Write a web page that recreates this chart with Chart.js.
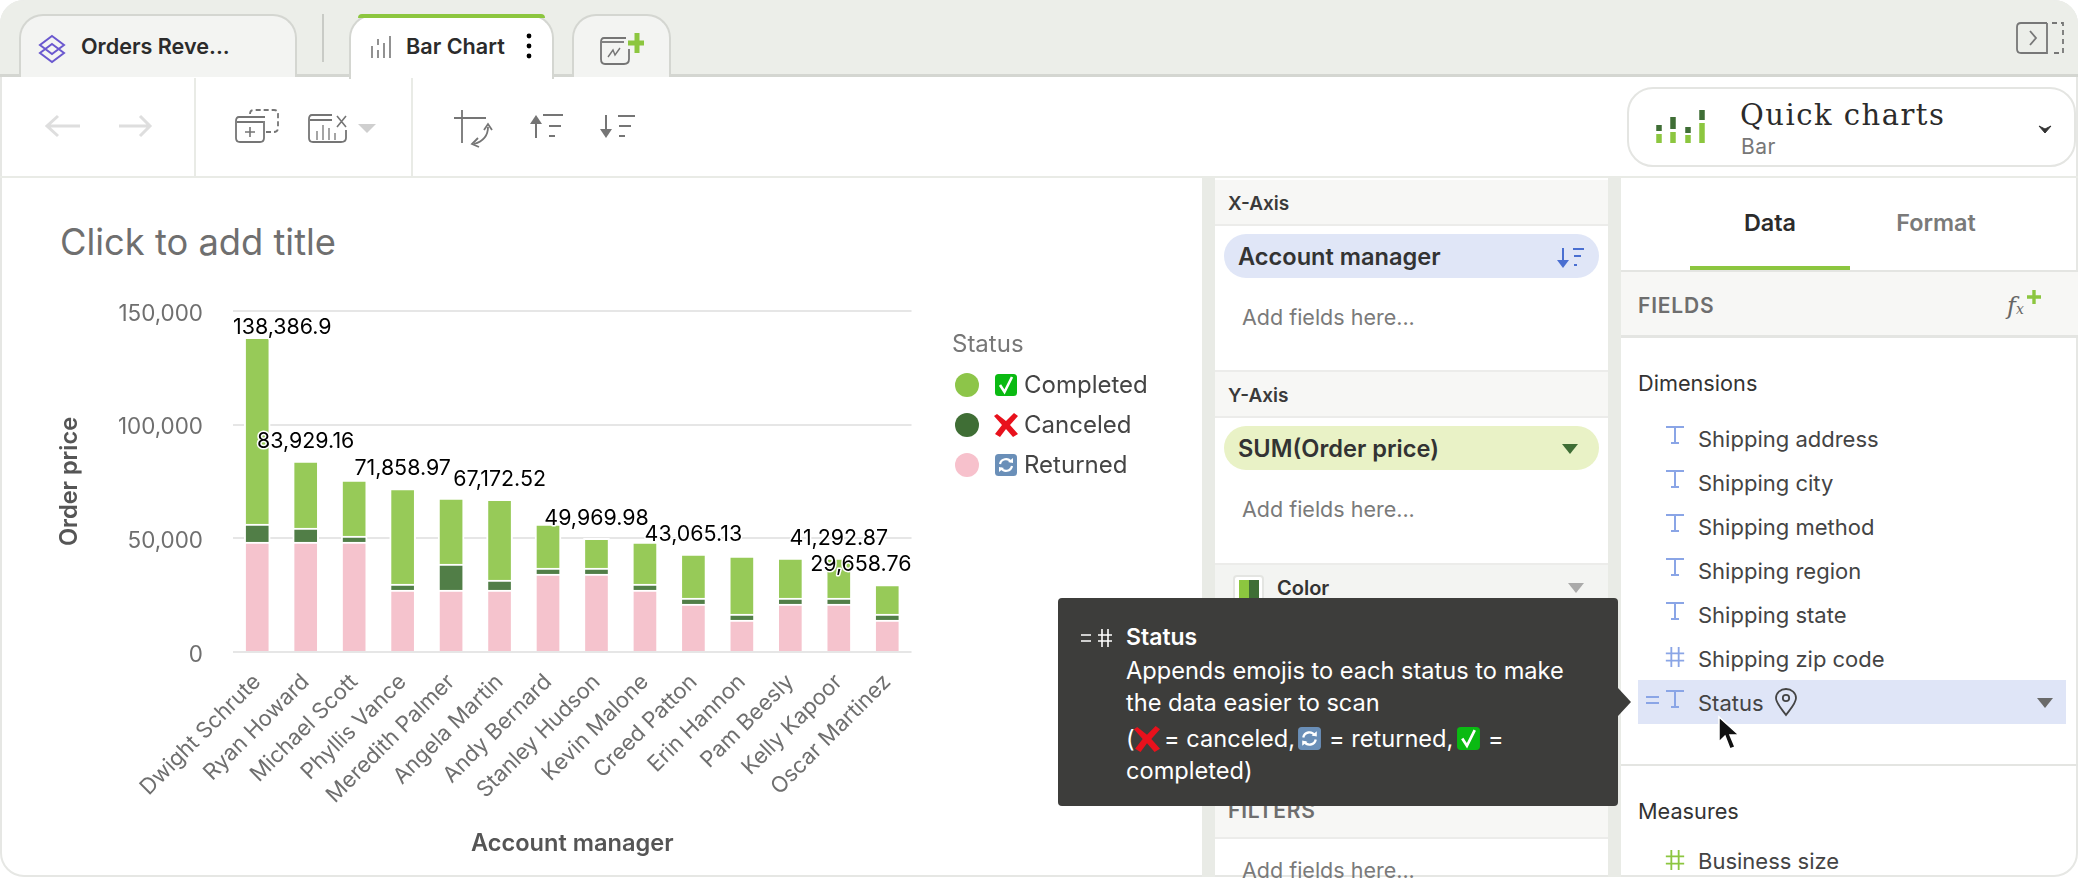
<!DOCTYPE html>
<html><head><meta charset="utf-8">
<script src="https://cdn.jsdelivr.net/npm/chart.js@4"></script>
<style>
html,body{margin:0;padding:0;background:#fff}
body{width:2078px;height:880px;overflow:hidden;position:relative;font-family:Inter,"Noto Sans",sans-serif;color:#333}
.a{position:absolute;box-sizing:border-box}
.t{position:absolute;white-space:nowrap;transform:translateY(-50%);line-height:1}
.b{font-weight:600}
svg{position:absolute;overflow:visible}
.f{font-size:22px;color:#444}
.g{font-size:21.5px;color:#7a7a7a}
.h{font-size:19px;font-weight:600;color:#3a3a3a}
.tp{font-size:23.6px;color:#fff}
</style></head><body>
<svg width="0" height="0" style="position:absolute"><defs>
<symbol id="ck" viewBox="0 0 24 24"><rect x="1" y="1" width="22" height="22" rx="3.5" fill="#0aba12"/><path d="M6 12 L10.5 19 L18 4" fill="none" stroke="#fff" stroke-width="2.6"/></symbol>
<symbol id="xx" viewBox="0 0 24 24"><path d="M3 1 L12 8 L20 0 L24 3 L16 12 L24 21 L19 24 L12 16 L6 24 L1 21 L8 12 L0 3 Z" fill="#e8111c"/></symbol>
<symbol id="rt" viewBox="0 0 24 24"><rect x="1" y="1" width="22" height="22" rx="3.5" fill="#6a8fb8"/><path d="M6 11 A6 6 0 0 1 17 9 M18 13 A6 6 0 0 1 7 15" fill="none" stroke="#fff" stroke-width="2.2"/><path d="M14 9 L19 10 L19 5 Z M10 15 L5 14 L5 19 Z" fill="#fff"/></symbol>
<symbol id="T" viewBox="0 0 18 18"><path d="M0 1 H18 M9 1 V17 M5 17 H13" fill="none" stroke="#8aa5e6" stroke-width="2"/></symbol>
<symbol id="H" viewBox="0 0 20 24"><path d="M6 1 V23 M14 1 V23 M0 8 H20 M0 16 H20" fill="none" stroke="currentColor" stroke-width="2"/></symbol>
</defs></svg>

<!-- window frame -->
<div class="a" style="left:0;top:0;width:2078px;height:877px;border-radius:24px;background:#fff;border:2px solid #e6e7e4;overflow:hidden"></div>
<div class="a" style="left:0;top:0;width:2078px;height:77px;background:#eceee9;border-radius:24px 24px 0 0;border-bottom:3px solid #d4d6d1"></div>

<!-- tabs -->
<div class="a" style="left:19px;top:14px;width:278px;height:63px;background:#f3f4f2;border:2px solid #d4d6d1;border-bottom:none;border-radius:24px 24px 0 0"></div>
<svg style="left:38px;top:35px" width="28" height="28" viewBox="0 0 28 28"><path d="M14 1 L26 10 L14 19 L2 10 Z M14 9 L26 18 L14 27 L2 18 Z" fill="none" stroke="#6a58cf" stroke-width="2"/></svg>
<div class="t b" style="left:81px;top:47px;font-size:21.6px;color:#2b2b2b">Orders Reve...</div>
<div class="a" style="left:322px;top:14px;width:2px;height:48px;background:#c9cbc6"></div>
<div class="a" style="left:349px;top:14px;width:205px;height:65px;background:#fff;border:2px solid #d4d6d1;border-bottom:none;border-radius:24px 24px 0 0"></div>
<div class="a" style="left:358px;top:14px;width:187px;height:4px;background:#8cc63f;border-radius:4px 4px 0 0"></div>
<svg style="left:371px;top:36px" width="22" height="22" viewBox="0 0 22 22"><path d="M1 10 V22 M7 14 V22 M7 3 V9 M13 7 V22 M19 0 V22" stroke="#777" stroke-width="1.6" fill="none"/></svg>
<div class="t b" style="left:406px;top:47px;font-size:21.6px;color:#2b2b2b">Bar Chart</div>
<svg style="left:526px;top:33px" width="6" height="26" viewBox="0 0 6 26"><circle cx="3" cy="3" r="2.4"/><circle cx="3" cy="13" r="2.4"/><circle cx="3" cy="23" r="2.4"/></svg>
<div class="a" style="left:572px;top:14px;width:99px;height:63px;background:#f3f4f2;border:2px solid #d4d6d1;border-bottom:none;border-radius:24px 24px 0 0"></div>
<svg style="left:600px;top:33px" width="44" height="32" viewBox="0 0 44 32"><path d="M26 5 H4 Q1 5 1 9 V26 Q1 31 5 31 H24 Q29 31 29 26 V16" fill="none" stroke="#757575" stroke-width="1.8"/><path d="M2 9 H24" stroke="#757575" stroke-width="1.8"/><path d="M8 24 L13 17 L15 22 L20 15" fill="none" stroke="#757575" stroke-width="1.4"/><path d="M37 0 V20 M28 10 H44" stroke="#8cc63f" stroke-width="5"/></svg>
<svg style="left:2016px;top:22px" width="48" height="32" viewBox="0 0 48 32"><path d="M31 1 H5 Q1 1 1 5 V27 Q1 31 5 31 H31 V1" fill="none" stroke="#777" stroke-width="1.8"/><path d="M14 9 L20 16 L14 23" fill="none" stroke="#777" stroke-width="1.8"/><path d="M36 1 H47 V31 H36" fill="none" stroke="#777" stroke-width="1.8" stroke-dasharray="5 4"/></svg>

<!-- toolbar -->
<div class="a" style="left:0;top:176px;width:2078px;height:2px;background:#e9ebe6"></div>
<div class="a" style="left:194px;top:78px;width:2px;height:98px;background:#e9ebe6"></div>
<div class="a" style="left:411px;top:78px;width:2px;height:98px;background:#e9ebe6"></div>
<svg style="left:44px;top:111px" width="110" height="30" viewBox="0 0 110 30"><path d="M3 15 H36 M14 5 L3 15 L14 25 M75 15 H106 M96 5 L106 15 L96 25" fill="none" stroke="#dedede" stroke-width="3"/></svg>
<svg style="left:235px;top:109px" width="44" height="34" viewBox="0 0 44 34"><path d="M30 8 H4 Q1 8 1 12 V29 Q1 33 5 33 H25 Q29 33 29 29 V12 M2 13 H28" fill="none" stroke="#757575" stroke-width="1.8"/><path d="M15 18 V28 M10 23 H20" stroke="#757575" stroke-width="1.6"/><path d="M15 5 Q15 1 19 1 H39 Q43 1 43 5 V19 Q43 23 39 23 H30" fill="none" stroke="#757575" stroke-width="1.8" stroke-dasharray="5 3"/></svg>
<svg style="left:308px;top:113px" width="42" height="30" viewBox="0 0 42 30"><path d="M24 2 H4 Q1 2 1 6 V25 Q1 29 5 29 H33 Q38 29 38 25 V17 M2 7 H24" fill="none" stroke="#757575" stroke-width="1.8"/><path d="M9 27 V18 M15 27 V12 M21 27 V15 M27 27 V20" stroke="#757575" stroke-width="1.3"/><path d="M29 3 L38 14 M38 3 L29 14" stroke="#757575" stroke-width="1.6"/></svg>
<svg style="left:358px;top:124px" width="18" height="9" viewBox="0 0 18 9"><path d="M0 0 H18 L9 9 Z" fill="#cfcfcf"/></svg>
<svg style="left:454px;top:110px" width="40" height="38" viewBox="0 0 40 38"><path d="M8 0 V33 M0 8 H32" fill="none" stroke="#757575" stroke-width="1.8"/><path d="M34 17 Q34 30 20 34" fill="none" stroke="#757575" stroke-width="1.8"/><path d="M30 20 L34 14 L38 20 M24 28 L18 34 L25 37" fill="none" stroke="#757575" stroke-width="1.8"/></svg>
<svg style="left:528px;top:115px" width="36" height="23" viewBox="0 0 36 23"><path d="M8 3 V23 M15 0 H35 M21 11 H33 M21 21 H27" fill="none" stroke="#757575" stroke-width="2"/><path d="M2 9 L8 0 L14 9 Z" fill="#757575"/></svg>
<svg style="left:598px;top:115px" width="38" height="23" viewBox="0 0 38 23"><path d="M8 0 V20 M20 1 H37 M21 11 H33 M21 21 H27" fill="none" stroke="#757575" stroke-width="2"/><path d="M2 14 L8 23 L14 14 Z" fill="#757575"/></svg>

<!-- quick charts -->
<div class="a" style="left:1627px;top:87px;width:449px;height:80px;border:2px solid #e4e5e2;border-radius:26px"></div>
<svg style="left:1656px;top:110px" width="50" height="34" viewBox="0 0 50 34"><path d="M3 15 V21 M17 7 V19 M32 17 V23 M46 0 V10" stroke="#3f6e35" stroke-width="5.5"/><path d="M3 24 V33 M17 22 V33 M32 25 V33 M46 13 V33" stroke="#8cc63f" stroke-width="5.5"/></svg>
<div class="t" style="left:1740px;top:115px;font-family:'DejaVu Serif',serif;font-size:29px;color:#2b2b2b;letter-spacing:1.5px">Quick charts</div>
<div class="t" style="left:1741px;top:146px;font-size:21px;color:#777;letter-spacing:.5px">Bar</div>
<svg style="left:2039px;top:125px" width="12" height="9" viewBox="0 0 12 9"><path d="M0 1 L6 8 L12 1 L6 4 Z" fill="#333" stroke="#333"/></svg>

<!-- gutters -->
<div class="a" style="left:1202px;top:178px;width:13px;height:699px;background:#e9ebe6"></div>
<div class="a" style="left:1608px;top:178px;width:13px;height:699px;background:#e9ebe6"></div>

<!-- chart title -->
<div class="t" style="left:60px;top:242px;font-size:36.3px;color:#6f6f6f">Click to add title</div>
<div class="a" style="left:0;top:180px;width:1200px;height:696px"><canvas id="c" width="1200" height="696" style="display:block;width:1200px;height:696px"></canvas></div>

<!-- legend (filled from the arrays) -->
<div class="t" style="left:952px;top:344px;font-size:24px;color:#777">Status</div>
<div id="legend"></div>

<!-- shelf panel -->
<div class="a" style="left:1215px;top:180px;width:393px;height:46px;background:#f7f7f5;border-bottom:2px solid #ececea"></div>
<div class="t h" style="left:1228px;top:203px">X-Axis</div>
<div class="a" style="left:1224px;top:234px;width:375px;height:44px;border-radius:22px;background:#e0e6f7"></div>
<div class="t b" style="left:1238px;top:257px;font-size:23.6px;color:#333">Account manager</div>
<svg style="left:1556px;top:248px" width="29" height="20" viewBox="0 0 29 20"><path d="M7 0 V17 M17 1 H28 M18 8 H25 M18 17 H21" fill="none" stroke="#4a6fd1" stroke-width="2"/><path d="M1 12 L7 20 L13 12 Z" fill="#4a6fd1"/></svg>
<div class="t g" style="left:1242px;top:318px">Add fields here...</div>
<div class="a" style="left:1215px;top:370px;width:393px;height:48px;background:#f7f7f5;border-top:2px solid #ececea;border-bottom:2px solid #ececea"></div>
<div class="t h" style="left:1228px;top:395px">Y-Axis</div>
<div class="a" style="left:1224px;top:426px;width:375px;height:44px;border-radius:22px;background:#e9f2c6"></div>
<div class="t b" style="left:1238px;top:449px;font-size:23.6px;color:#333">SUM(Order price)</div>
<svg style="left:1562px;top:444px" width="16" height="10" viewBox="0 0 16 10"><path d="M0 0 H16 L8 10 Z" fill="#3f6e35"/></svg>
<div class="t g" style="left:1242px;top:510px">Add fields here...</div>
<div class="a" style="left:1215px;top:563px;width:393px;height:70px;background:#f3f4f2;border-top:2px solid #ececea"></div>
<div class="a" style="left:1233px;top:575px;width:31px;height:30px;background:#fff;border:2px solid #e4e5e2;border-radius:4px"></div>
<div class="a" style="left:1239px;top:580px;width:10px;height:20px;background:#8cc63f"></div>
<div class="a" style="left:1249px;top:580px;width:10px;height:20px;background:#3f6e35"></div>
<div class="t b" style="left:1277px;top:588px;font-size:20px;color:#333">Color</div>
<svg style="left:1568px;top:583px" width="16" height="10" viewBox="0 0 16 10"><path d="M0 0 H16 L8 10 Z" fill="#aaa"/></svg>
<div class="a" style="left:1215px;top:790px;width:393px;height:49px;background:#f7f7f5;border-bottom:2px solid #ececea"></div>
<div class="t h" style="left:1228px;top:810px;color:#6e6e6e;letter-spacing:.8px;font-size:21px">FILTERS</div>
<div class="t g" style="left:1242px;top:871px">Add fields here...</div>

<!-- fields panel -->
<div class="t b" style="left:1770px;top:223px;font-size:23.4px;color:#2b2b2b;transform:translate(-50%,-50%)">Data</div>
<div class="t b" style="left:1936px;top:223px;font-size:23.4px;color:#7a7a7a;transform:translate(-50%,-50%)">Format</div>
<div class="a" style="left:1690px;top:266px;width:160px;height:4px;background:#8cc63f"></div>
<div class="a" style="left:1621px;top:270px;width:457px;height:68px;background:#f7f7f5;border-top:2px solid #e4e5e2;border-bottom:3px solid #e4e5e2"></div>
<div class="t h" style="left:1638px;top:305px;color:#6e6e6e;letter-spacing:.8px;font-size:21px">FIELDS</div>
<div class="t" style="left:2007px;top:306px;font-family:'DejaVu Serif',serif;font-style:italic;font-size:24px;color:#666">f<span style="font-size:14px">x</span></div>
<svg style="left:2027px;top:290px" width="14" height="14" viewBox="0 0 14 14"><path d="M7 0 V14 M0 7 H14" stroke="#8cc63f" stroke-width="3.4"/></svg>
<div class="t f" style="left:1638px;top:384px;color:#333;font-size:21.7px">Dimensions</div>

<svg style="left:1666px;top:426px" width="18" height="18"><use href="#T" width="18" height="18"/></svg><div class="t f" style="left:1698px;top:439px">Shipping address</div>
<svg style="left:1666px;top:470px" width="18" height="18"><use href="#T" width="18" height="18"/></svg><div class="t f" style="left:1698px;top:483px">Shipping city</div>
<svg style="left:1666px;top:514px" width="18" height="18"><use href="#T" width="18" height="18"/></svg><div class="t f" style="left:1698px;top:527px">Shipping method</div>
<svg style="left:1666px;top:558px" width="18" height="18"><use href="#T" width="18" height="18"/></svg><div class="t f" style="left:1698px;top:571px">Shipping region</div>
<svg style="left:1666px;top:602px" width="18" height="18"><use href="#T" width="18" height="18"/></svg><div class="t f" style="left:1698px;top:615px">Shipping state</div>
<svg style="left:1665px;top:646px;color:#8aa5e6" width="20" height="22"><use href="#H" width="20" height="22"/></svg><div class="t f" style="left:1698px;top:659px">Shipping zip code</div>
<div class="a" style="left:1638px;top:680px;width:428px;height:44px;background:#dfe5f7"></div>
<svg style="left:1646px;top:696px" width="14" height="9"><path d="M0 1 H13 M0 7 H13" stroke="#8aa5e6" stroke-width="2"/></svg>
<svg style="left:1666px;top:690px" width="18" height="18"><use href="#T" width="18" height="18"/></svg><div class="t f" style="left:1698px;top:703px">Status</div>
<svg style="left:1774px;top:688px" width="24" height="28" viewBox="0 0 24 28"><path d="M12 27 C6 19 2 15 2 10 A10 9 0 0 1 22 10 C22 15 18 19 12 27 Z" fill="none" stroke="#444" stroke-width="1.8"/><circle cx="12" cy="10" r="3.2" fill="none" stroke="#444" stroke-width="1.8"/></svg>
<svg style="left:2037px;top:698px" width="16" height="10" viewBox="0 0 16 10"><path d="M0 0 H16 L8 10 Z" fill="#6a6a6a"/></svg>
<div class="a" style="left:1621px;top:764px;width:457px;height:2px;background:#e4e5e2"></div>
<div class="t f" style="left:1638px;top:812px;color:#333;font-size:21.7px">Measures</div>
<svg style="left:1665px;top:849px;color:#8cc63f" width="20" height="22"><use href="#H" width="20" height="22"/></svg><div class="t f" style="left:1698px;top:861px">Business size</div>
<svg style="left:1717px;top:716px" width="26" height="36" viewBox="0 0 26 36"><path d="M2 1 L2 26 L8 20 L13 33 L18 31 L13 19 L22 19 Z" fill="#111" stroke="#fff" stroke-width="1.5"/></svg>

<!-- tooltip -->
<div class="a" style="left:1058px;top:598px;width:560px;height:208px;background:#3d3d3b;border-radius:4px"></div>
<svg style="left:1618px;top:688px" width="14" height="28" viewBox="0 0 14 28"><path d="M0 0 L13 14 L0 28 Z" fill="#3d3d3b"/></svg>
<svg style="left:1081px;top:628px" width="32" height="20" viewBox="0 0 32 20"><path d="M0 7 H10 M0 13 H10 M17 7 H31 M17 13 H31 M21 1 V19 M27 1 V19" stroke="#fff" stroke-width="1.6"/></svg>
<div class="t tp b" style="left:1126px;top:637px;font-size:23px">Status</div>
<div class="t tp" style="left:1126px;top:671px">Appends emojis to each status to make</div>
<div class="t tp" style="left:1126px;top:703px">the data easier to scan</div>
<div class="t tp" style="left:1126px;top:739px">(</div>
<svg style="left:1134px;top:726px" width="26" height="26"><use href="#xx" width="26" height="26"/></svg>
<div class="t tp" style="left:1164px;top:739px">= canceled,</div>
<svg style="left:1297px;top:726px" width="25" height="25"><use href="#rt" width="25" height="25"/></svg>
<div class="t tp" style="left:1329px;top:739px">= returned,</div>
<svg style="left:1456px;top:726px" width="25" height="25"><use href="#ck" width="25" height="25"/></svg>
<div class="t tp" style="left:1488px;top:739px">=</div>
<div class="t tp" style="left:1126px;top:771px">completed)</div>

<script>
const categories = ["Dwight Schrute","Ryan Howard","Michael Scott","Phyllis Vance","Meredith Palmer","Angela Martin","Andy Bernard","Stanley Hudson","Kevin Malone","Creed Patton","Erin Hannon","Pam Beesly","Kelly Kapoor","Oscar Martinez"];
const returned  = [48345,48345,48345,27250,27250,27250,34280,34280,27250,21100,14060,21100,21100,14060];
const canceled  = [7910,6150,2640,2640,11430,4395,2640,2640,2640,2640,2640,2640,2640,2640];
const completed = [82132,29434,24609,41969,29003,35527,19336,13050,18455,19325,25492,17573,17553,12959];
const totalLabels = ["138,386.9","83,929.16",null,"71,858.97",null,"67,172.52",null,"49,969.98",null,"43,065.13",null,null,"41,292.87","29,658.76"];
const yTicks = [0,50000,100000,150000];
const legendNames = ["Completed","Canceled","Returned"];
const legendIcons = ["ck","xx","rt"];
const legendColors = ["#8dc549","#3f6e35","#f7c1cc"];

Chart.defaults.font.family = "Inter";

const totalsPlugin = {
  id:"totals",
  afterDatasetsDraw(chart){
    const {ctx,chartArea:a,scales:{x,y}} = chart;
    ctx.save();
    ctx.font = "21.4px Inter";
    ctx.textAlign = "center";
    ctx.textBaseline = "middle";
    ctx.lineJoin = "round";
    totalLabels.forEach((txt,i)=>{
      if(!txt) return;
      const w = ctx.measureText(txt).width;
      const total = returned[i]+canceled[i]+completed[i];
      const px = Math.min(a.right-w/2, Math.max(a.left+w/2, x.getPixelForValue(i)));
      const py = Math.max(a.top+17, y.getPixelForValue(total)-20);
      ctx.lineWidth = 3;
      ctx.strokeStyle = "#fff";
      ctx.strokeText(txt,px,py);
      ctx.fillStyle = "#000";
      ctx.fillText(txt,px,py);
    });
    ctx.restore();
  }
};

const barBorder = {top:2,left:2,right:2,bottom:0};
const mkSet = (label,data,color)=>({label,data,backgroundColor:color,borderColor:"#fff",borderWidth:barBorder,borderSkipped:false,stack:"s",barThickness:26});

new Chart(document.getElementById("c"),{
  type:"bar",
  data:{labels:categories,datasets:[
    mkSet("Returned",returned,"#f5c3cd"),
    mkSet("Canceled",canceled,"#517e47"),
    mkSet("Completed",completed,"#97ca58")
  ]},
  plugins:[totalsPlugin],
  options:{
    responsive:false,maintainAspectRatio:false,animation:false,devicePixelRatio:1,locale:"en-US",
    layout:{padding:{left:52,right:288.5,top:131,bottom:14}},
    plugins:{legend:{display:false},tooltip:{enabled:false}},
    scales:{
      x:{stacked:true,
        afterFit(s){s.height=210},
        grid:{display:false},border:{display:false},
        title:{display:true,text:"Account manager",color:"#555",font:{size:23.6,weight:"600"}},
        ticks:{autoSkip:false,minRotation:45,maxRotation:45,color:"#6f6f6f",padding:9,font:{size:22}}},
      y:{stacked:true,min:0,max:150000,
        afterFit(s){s.width=181},
        afterBuildTicks(s){s.ticks=yTicks.map(value=>({value}))},
        grid:{color:"#e6e6e6",lineWidth:2,drawTicks:false},border:{display:false},
        title:{display:true,text:"Order price",color:"#555",font:{size:23.6,weight:"600"}},
        ticks:{color:"#6f6f6f",padding:30,labelOffset:3,font:{size:22.4}}}
    }
  }
});

const legendEl = document.getElementById("legend");
legendNames.forEach((n,i)=>{
  const y = 385+i*40;
  legendEl.insertAdjacentHTML("beforeend",
   `<div class="a" style="left:955px;top:${y-12}px;width:24px;height:24px;border-radius:50%;background:${legendColors[i]}"></div>
    <svg style="left:994px;top:${y-12}px" width="24" height="24"><use href="#${legendIcons[i]}" width="24" height="24"/></svg>
    <div class="t" style="left:1024px;top:${y}px;font-size:24px;color:#444">${n}</div>`);
});
</script>
</body></html>
